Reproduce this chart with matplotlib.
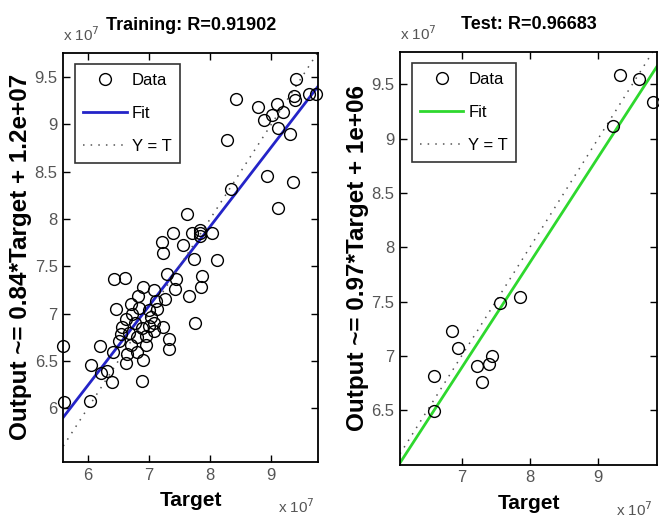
import matplotlib
matplotlib.use("Agg")
import matplotlib.pyplot as plt
import numpy as np

plt.rcParams["font.family"] = ["Liberation Sans", "DejaVu Sans"]

# --- data (units of 1e7) ---
train_target = [9.41, 8.42, 9.73, 9.61, 9.38, 9.39, 8.79, 8.88, 9.09, 9.02, 9.20, 9.11, 9.31,
                8.27, 8.93, 9.36, 9.11, 8.35, 7.63, 7.40, 7.55, 7.71, 7.84, 7.84, 8.04, 7.21,
                7.23, 8.11, 7.74, 7.30, 7.87, 7.86, 7.45, 7.43, 7.66, 7.75, 6.43, 6.61, 6.46,
                6.70, 6.83, 6.91, 7.08, 7.12, 7.26, 7.00, 7.14, 6.63, 6.78, 6.89, 7.00, 7.08,
                7.23, 6.54, 6.67, 6.81, 6.95, 7.08, 6.51, 6.70, 6.95, 7.33, 7.33, 6.20, 6.41,
                6.65, 6.81, 6.63, 6.90, 6.06, 6.21, 6.32, 6.39, 6.89, 5.60, 5.61, 6.04, 6.73,
                6.84, 6.56, 7.04, 7.83]
train_output = [9.48, 9.27, 9.32, 9.32, 9.30, 9.26, 9.18, 9.05, 9.22, 9.10, 9.13, 8.96, 8.90,
                8.84, 8.46, 8.39, 8.12, 8.32, 8.05, 7.85, 7.73, 7.85, 7.85, 7.82, 7.85, 7.76,
                7.64, 7.57, 7.58, 7.42, 7.40, 7.28, 7.37, 7.26, 7.19, 6.90, 7.37, 7.38, 7.05,
                7.10, 7.19, 7.28, 7.25, 7.13, 7.15, 7.04, 7.05, 6.94, 6.90, 6.85, 6.87, 6.90,
                6.86, 6.78, 6.80, 6.75, 6.76, 6.82, 6.71, 6.67, 6.67, 6.73, 6.63, 6.66, 6.59,
                6.57, 6.59, 6.48, 6.51, 6.46, 6.37, 6.39, 6.28, 6.29, 6.66, 6.07, 6.08, 7.00,
                7.06, 6.86, 6.96, 7.88]

test_target = [9.32, 9.59, 9.80, 9.21, 7.85, 7.57, 6.86, 6.95, 6.60, 6.60, 7.23, 7.30, 7.40, 7.44]
test_output = [9.58, 9.55, 9.34, 9.12, 7.54, 7.49, 7.23, 7.07, 6.82, 6.49, 6.91, 6.76, 6.93, 7.00]

train_fit = (0.84, 1.2)   # slope, intercept (1e7)
test_fit = (0.97, 0.1)

panels = [
    dict(rect=[0.096, 0.113, 0.387, 0.786], t=train_target, y=train_output, fit=train_fit,
         color="#2424c8", title="Training: R=0.91902",
         ylabel="Output ~= 0.84*Target + 1.2e+07",
         xlim=(5.60, 9.77), ylim=(5.43, 9.76),
         xticks=[6, 7, 8, 9], yticks=[6, 6.5, 7, 7.5, 8, 8.5, 9, 9.5]),
    dict(rect=[0.607, 0.108, 0.390, 0.793], t=test_target, y=test_output, fit=test_fit,
         color="#2ed82e", title="Test: R=0.96683",
         ylabel="Output ~= 0.97*Target + 1e+06",
         xlim=(6.10, 9.86), ylim=(6.00, 9.80),
         xticks=[7, 8, 9], yticks=[6.5, 7, 7.5, 8, 8.5, 9, 9.5]),
]

fig = plt.figure(figsize=(6.59, 5.21), dpi=100)

for p in panels:
    ax = fig.add_axes(p["rect"])
    x0, x1 = p["xlim"]
    xs = np.array([x0, x1])
    ax.plot(p["t"], p["y"], "o", mfc="none", mec="black", ms=8.5, mew=1.0,
            label="Data", clip_on=False, zorder=3)
    ax.plot(xs, p["fit"][0] * xs + p["fit"][1], "-", color=p["color"], lw=2, label="Fit")
    ax.plot(xs, xs, linestyle=(0, (1, 4)), color="#555555", lw=1.1, label="Y = T")
    ax.set_xlim(p["xlim"])
    ax.set_ylim(p["ylim"])
    ax.set_xticks(p["xticks"])
    ax.set_yticks(p["yticks"])
    ax.set_xticklabels([f"{v:g}" for v in p["xticks"]])
    ax.set_yticklabels([f"{v:g}" for v in p["yticks"]])
    ax.tick_params(direction="in", top=True, right=True, length=5, width=1,
                   labelsize=12, labelcolor="#555555", pad=4)
    for s in ax.spines.values():
        s.set_linewidth(1.3)
    ax.set_title(p["title"], fontsize=13, fontweight="bold", pad=16)
    ax.set_xlabel("Target", fontsize=15, fontweight="bold", labelpad=6)
    ax.set_ylabel(p["ylabel"], fontsize=17.5, fontweight="bold", labelpad=2)
    ax.text(0.0, 1.02, r"x 10$^7$", transform=ax.transAxes, fontsize=11,
            color="#555555", ha="left", va="bottom")
    ax.text(0.985, -0.085, r"x 10$^7$", transform=ax.transAxes, fontsize=11,
            color="#555555", ha="right", va="top")
    leg = ax.legend(loc="upper left", fontsize=12, frameon=True, fancybox=False,
                    edgecolor="black", handlelength=2.6, handletextpad=0.3,
                    borderaxespad=0.7, labelspacing=1.1, borderpad=0.5)
    leg.get_frame().set_linewidth(1.2)

fig.savefig("out.png", dpi=100)
